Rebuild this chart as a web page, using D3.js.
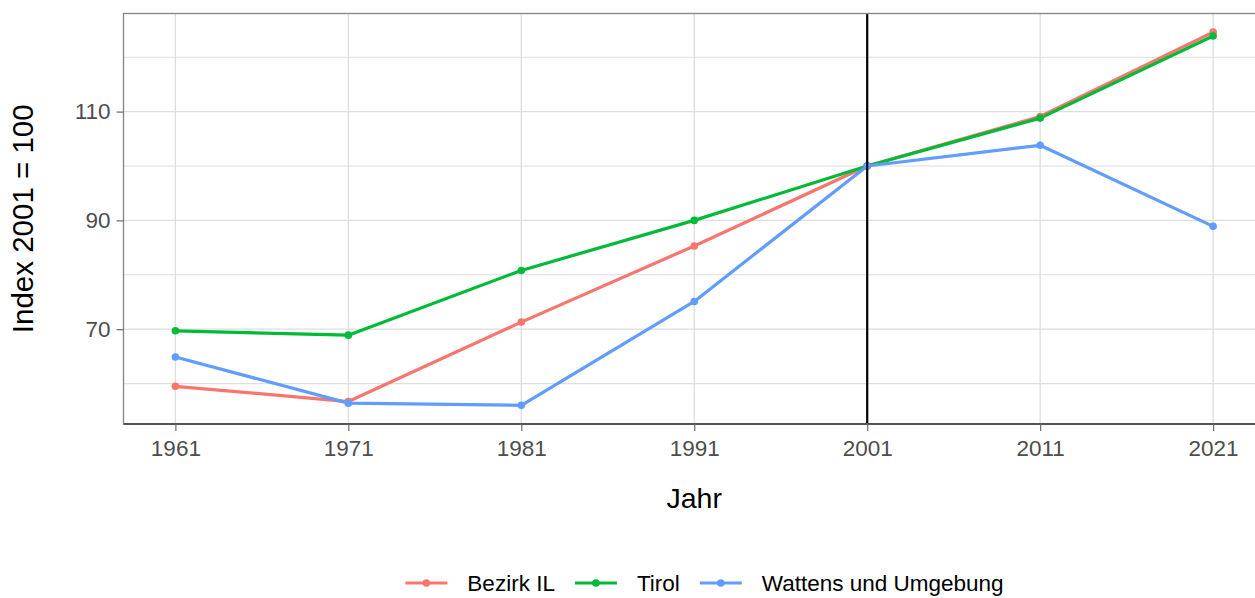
<!DOCTYPE html>
<html>
<head>
<meta charset="utf-8">
<script src="https://cdn.jsdelivr.net/npm/d3@7"></script>
<style>
  html, body { margin: 0; padding: 0; background: #ffffff; }
  svg { display: block; font-family: "Liberation Sans", Arial, sans-serif; }
</style>
</head>
<body>
<div id="chart"></div>
<script>
// data
const years = [1961, 1971, 1981, 1991, 2001, 2011, 2021];
const seriesNames = ["Bezirk IL", "Tirol", "Wattens und Umgebung"];
const bezirkIL = [59.5, 56.7, 71.3, 85.3, 100, 109.1, 124.6];
const tirol = [69.7, 68.9, 80.8, 90.0, 100, 108.8, 123.9];
const wattens = [64.9, 56.4, 56.0, 75.1, 100, 103.8, 88.9];
const yMajorTicks = [70, 90, 110];
const yMinorTicks = [60, 80, 100, 120];
const refYear = 2001;
const colors = ["#F8766D", "#00BA38", "#619CFF"];

const width = 1255;
const height = 598;
const panel = { left: 123.5, top: 13.5, right: 1265, bottom: 424 };

const series = seriesNames.map((name, i) => ({
  name: name,
  color: colors[i],
  values: years.map((yr, j) => ({ year: yr, value: [bezirkIL, tirol, wattens][i][j] })),
}));

// ggplot style 5% expansion
const xExt = d3.extent(years);
const xPad = (xExt[1] - xExt[0]) * 0.05;
const allVals = [].concat(bezirkIL, tirol, wattens);
const yExt = d3.extent(allVals);
const yPad = (yExt[1] - yExt[0]) * 0.05;

const x = d3.scaleLinear()
  .domain([xExt[0] - xPad, xExt[1] + xPad])
  .range([panel.left, panel.right]);
const y = d3.scaleLinear()
  .domain([yExt[0] - yPad, yExt[1] + yPad])
  .range([panel.bottom, panel.top]);

const svg = d3.select("#chart")
  .append("svg")
  .attr("width", width)
  .attr("height", height);

// grid
const grid = svg.append("g").attr("class", "grid");
grid.selectAll(".ymin").data(yMinorTicks).enter().append("line")
  .attr("x1", panel.left).attr("x2", panel.right)
  .attr("y1", (d) => y(d)).attr("y2", (d) => y(d))
  .style("stroke", "#dedede").style("stroke-width", 1.1);
grid.selectAll(".ymaj").data(yMajorTicks).enter().append("line")
  .attr("x1", panel.left).attr("x2", panel.right)
  .attr("y1", (d) => y(d)).attr("y2", (d) => y(d))
  .style("stroke", "#dedede").style("stroke-width", 1.3);
grid.selectAll(".xmaj").data(years).enter().append("line")
  .attr("y1", panel.top).attr("y2", panel.bottom)
  .attr("x1", (d) => x(d)).attr("x2", (d) => x(d))
  .style("stroke", "#dedede").style("stroke-width", 1.3);

// lines, then points
const line = d3.line()
  .x((d) => x(d.year))
  .y((d) => y(d.value));

svg.append("g").selectAll("path").data(series).enter().append("path")
  .attr("d", (d) => line(d.values))
  .style("fill", "none")
  .style("stroke", (d) => d.color)
  .style("stroke-width", 3.2)
  .style("stroke-linejoin", "round");

series.forEach((s) => {
  svg.append("g").selectAll("circle").data(s.values).enter().append("circle")
    .attr("cx", (d) => x(d.year))
    .attr("cy", (d) => y(d.value))
    .attr("r", 3.8)
    .style("fill", s.color);
});

// reference line
svg.append("line")
  .attr("x1", x(refYear)).attr("x2", x(refYear))
  .attr("y1", panel.top).attr("y2", panel.bottom)
  .style("stroke", "#000000").style("stroke-width", 2.2);

// panel border
svg.append("rect")
  .attr("x", panel.left).attr("y", panel.top)
  .attr("width", panel.right - panel.left)
  .attr("height", panel.bottom - panel.top)
  .style("fill", "none").style("stroke", "#8a8a8a").style("stroke-width", 1.4);
svg.append("line")
  .attr("x1", panel.left).attr("x2", panel.right)
  .attr("y1", panel.bottom).attr("y2", panel.bottom)
  .style("stroke", "#555555").style("stroke-width", 2.2);

// axes
const xAxis = svg.append("g")
  .attr("transform", `translate(0, ${panel.bottom})`)
  .call(d3.axisBottom(x).tickValues(years).tickFormat(d3.format("d")).tickSize(7).tickPadding(9));
const yAxis = svg.append("g")
  .attr("transform", `translate(${panel.left}, 0)`)
  .call(d3.axisLeft(y).tickValues(yMajorTicks).tickSize(7).tickPadding(6));
[xAxis, yAxis].forEach((ax) => {
  ax.select(".domain").remove();
  ax.selectAll(".tick line").style("stroke", "#6a6a6a").style("stroke-width", 1.2);
  ax.selectAll(".tick text")
    .style("fill", "#4d4d4d")
    .style("font-size", "22.5px")
    .style("font-family", "'Liberation Sans', Arial, sans-serif");
});

// axis titles
svg.append("text")
  .attr("x", (panel.left + panel.right) / 2)
  .attr("y", 508)
  .attr("text-anchor", "middle")
  .style("font-size", "28.5px")
  .style("fill", "#000000")
  .text("Jahr");

svg.append("text")
  .attr("transform", `translate(33, ${(panel.top + panel.bottom) / 2}) rotate(-90)`)
  .attr("text-anchor", "middle")
  .style("font-size", "29.5px")
  .style("fill", "#000000")
  .text("Index 2001 = 100");

// legend
const legend = svg.append("g").attr("class", "legend");
const keyW = 42;
const legendY = 583;
let cursor = 0;
series.forEach((s) => {
  const g = legend.append("g");
  g.append("line")
    .attr("x1", 0).attr("x2", keyW)
    .attr("y1", 0).attr("y2", 0)
    .style("stroke", s.color).style("stroke-width", 3.2);
  g.append("circle").attr("cx", keyW / 2).attr("cy", 0).attr("r", 3.8).style("fill", s.color);
  const t = g.append("text")
    .attr("x", keyW + 20)
    .attr("y", 8)
    .style("font-size", "22.5px")
    .style("fill", "#000000")
    .text(s.name);
  const w = t.node().getComputedTextLength();
  g.attr("transform", `translate(${cursor}, 0)`);
  cursor += keyW + 20 + w + 20;
});
const legendW = cursor - 20;
legend.attr("transform", `translate(${704.5 - legendW / 2}, ${legendY})`);
</script>
</body>
</html>
